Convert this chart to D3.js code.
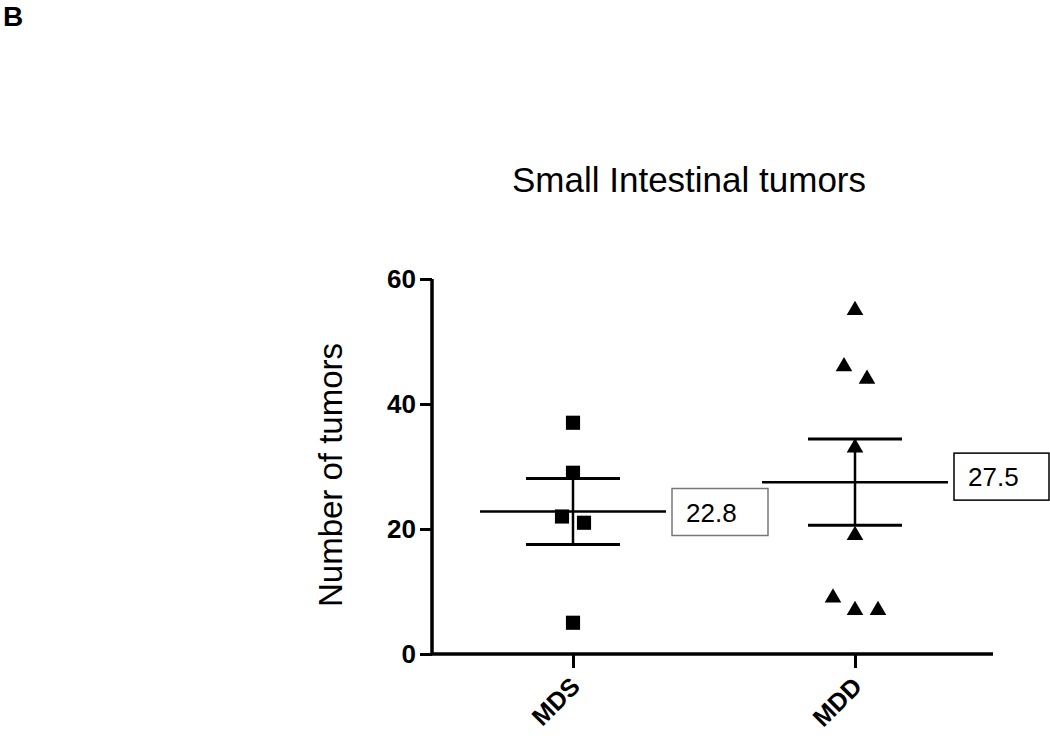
<!DOCTYPE html>
<html>
<head>
<meta charset="utf-8">
<script src="https://cdn.jsdelivr.net/npm/d3@7"></script>
<style>
  body { margin: 0; background: #fff; }
  text { font-family: "Liberation Sans", Arial, sans-serif; }
</style>
</head>
<body>
<div id="chart"></div>
<script>
// Width and height of page
var width = 1050;
var height = 736;

// data
var groups = ["MDS", "MDD"];
var mdsValues = [37, 29, 22, 21, 5];
var mddValues = [55, 46, 44, 33, 19, 9, 7, 7];
// small sideways shifts of the dots (in px, like the scatter in the original)
var mdsJitter = [0, 0, -11, 11, 0];
var mddJitter = [0, -11, 12, 0, 0, -22, 0, 23];
var yTicks = [0, 20, 40, 60];

var svg = d3.select("#chart")
    .append("svg")
    .attr("width", width)
    .attr("height", height);

// scales
var x = d3.scalePoint()
    .domain(groups)
    .range([432, 996])
    .padding(0.5);

var y = d3.scaleLinear()
    .domain([0, 60])
    .range([654, 279]);

// panel letter
svg.append("text")
    .attr("x", 3)
    .attr("y", 26)
    .style("font-size", "28px")
    .style("font-weight", "bold")
    .text("B");

// title
svg.append("text")
    .attr("x", 689)
    .attr("y", 192)
    .attr("text-anchor", "middle")
    .style("font-size", "35px")
    .text("Small Intestinal tumors");

// y axis
var yAxis = svg.append("g")
    .attr("transform", "translate(432,0)")
    .call(d3.axisLeft(y).tickValues(yTicks).tickSize(12).tickPadding(4));
yAxis.select(".domain").attr("stroke-width", 3.5).attr("d", "M0," + y(60) + "V" + y(0));
yAxis.selectAll(".tick line").attr("stroke-width", 3);
yAxis.selectAll(".tick text")
    .style("font-size", "26px")
    .style("font-weight", "bold")
    .style("font-family", "'Liberation Sans', Arial, sans-serif")
    .attr("fill", "#000");

// x axis
var xAxis = svg.append("g")
    .attr("transform", "translate(0,654)")
    .call(d3.axisBottom(x).tickSize(14).tickSizeOuter(0));
xAxis.select(".domain").attr("stroke-width", 3.5).attr("d", "M432,0H993");
xAxis.selectAll(".tick line").attr("stroke-width", 3);
xAxis.selectAll(".tick text")
    .style("font-size", "25px")
    .style("font-weight", "bold")
    .style("font-family", "'Liberation Sans', Arial, sans-serif")
    .attr("fill", "#000")
    .attr("text-anchor", "end")
    .attr("dy", null)
    .attr("y", 0)
    .attr("transform", "translate(8,34) rotate(-45)");

// y axis title
svg.append("text")
    .attr("transform", "translate(342,475) rotate(-90)")
    .attr("text-anchor", "middle")
    .style("font-size", "33px")
    .text("Number of tumors");

function meanOf(v) { return d3.mean(v); }
function semOf(v) { return d3.deviation(v) / Math.sqrt(v.length); }

var series = [
    { name: "MDS", values: mdsValues, jitter: mdsJitter, shape: d3.symbolSquare, boxStroke: "#777" },
    { name: "MDD", values: mddValues, jitter: mddJitter, shape: d3.symbolTriangle, boxStroke: "#000" }
];

series.forEach(function(s) {
    var cx = x(s.name);
    var m = meanOf(s.values);
    var se = semOf(s.values);
    var g = svg.append("g");

    // points
    g.selectAll("path.pt")
        .data(s.values)
        .enter()
        .append("path")
        .attr("class", "pt")
        .attr("d", d3.symbol().type(s.shape).size(s.shape === d3.symbolSquare ? 200 : 120))
        .attr("transform", function(d, i) {
            return "translate(" + (cx + s.jitter[i]) + "," + y(d) + ")";
        })
        .attr("fill", "#000");

    // mean line
    g.append("line")
        .attr("x1", cx - 93).attr("x2", cx + 93)
        .attr("y1", y(m)).attr("y2", y(m))
        .attr("stroke", "#000").attr("stroke-width", 2.5);

    // error bar (SEM)
    g.append("line")
        .attr("x1", cx).attr("x2", cx)
        .attr("y1", y(m + se)).attr("y2", y(m - se))
        .attr("stroke", "#000").attr("stroke-width", 2.5);
    [m + se, m - se].forEach(function(v) {
        g.append("line")
            .attr("x1", cx - 47).attr("x2", cx + 47)
            .attr("y1", y(v)).attr("y2", y(v))
            .attr("stroke", "#000").attr("stroke-width", 3);
    });

    // label box with mean
    var bx = cx + 99;
    var by = y(m) - (s.name === "MDS" ? 23 : 29);
    g.append("rect")
        .attr("x", bx).attr("y", by)
        .attr("width", s.name === "MDS" ? 96 : 95)
        .attr("height", 47)
        .attr("fill", "#fff")
        .attr("stroke", s.boxStroke)
        .attr("stroke-width", 1.5);
    g.append("text")
        .attr("x", bx + 14)
        .attr("y", by + 33)
        .style("font-size", "26px")
        .text(m.toFixed(1));
});
</script>
</body>
</html>
